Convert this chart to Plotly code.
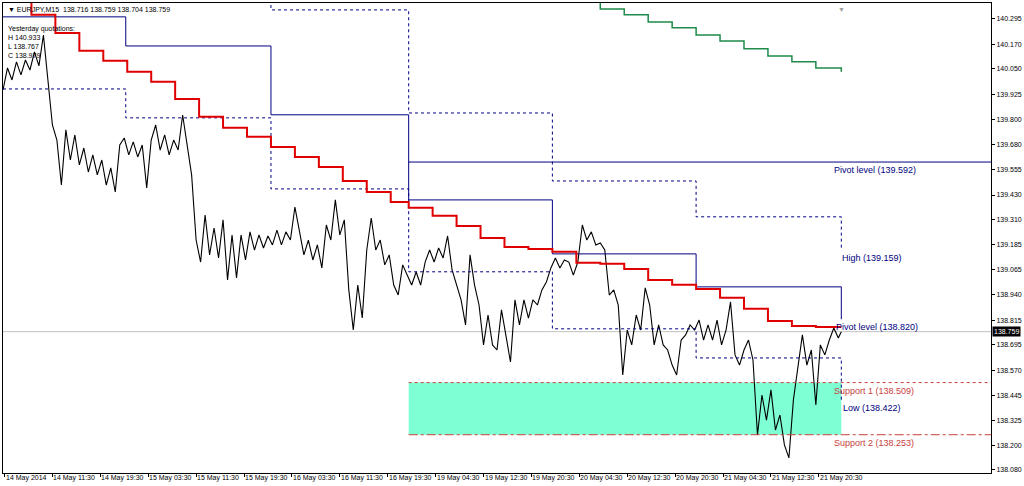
import plotly.graph_objects as go

# ---------------- data ----------------
# bar index = one 15-minute bar (EURJPY M15)
price_bar = list(range(0, 559, 3)) + [560]
price_close = [
    139.946, 140.054, 139.995, 140.084, 140.020, 140.093, 140.044, 140.133, 140.064, 140.216,
    139.995, 139.774, 139.700, 139.479, 139.750, 139.602, 139.725, 139.578, 139.661, 139.543,
    139.627, 139.529, 139.602, 139.479, 139.563, 139.445, 139.676, 139.710, 139.627, 139.691,
    139.617, 139.676, 139.465, 139.700, 139.774, 139.651, 139.725, 139.627, 139.700, 139.651,
    139.823, 139.676, 139.529, 139.209, 139.101, 139.332, 139.136, 139.268, 139.121, 139.308,
    139.013, 139.234, 139.023, 139.234, 139.111, 139.249, 139.160, 139.234, 139.170, 139.229,
    139.185, 139.258, 139.185, 139.249, 139.209, 139.371, 139.258, 139.136, 139.209, 139.111,
    139.185, 139.072, 139.283, 139.209, 139.406, 139.234, 139.308, 138.964, 138.767, 138.988,
    138.826, 139.160, 139.317, 139.160, 139.209, 139.087, 139.136, 138.988, 138.939, 139.087,
    139.037, 138.988, 139.052, 138.988, 139.101, 139.160, 139.101, 139.170, 139.121, 139.229,
    139.062, 138.988, 138.915, 138.792, 139.136, 138.988, 138.890, 138.694, 138.841, 138.694,
    138.669, 138.866, 138.743, 138.610, 138.915, 138.792, 138.915, 138.826, 138.915, 138.890,
    138.964, 139.003, 139.072, 139.121, 139.072, 139.111, 139.101, 139.037, 139.101, 139.283,
    139.209, 139.249, 139.185, 139.195, 139.160, 138.939, 138.964, 138.890, 138.546, 138.767,
    138.694, 138.841, 138.767, 138.974, 138.890, 138.694, 138.792, 138.694, 138.669, 138.595,
    138.546, 138.718, 138.743, 138.792, 138.767, 138.816, 138.718, 138.792, 138.718, 138.816,
    138.694, 138.767, 138.905, 138.645, 138.595, 138.669, 138.718, 138.620, 138.252, 138.448,
    138.325, 138.473, 138.276, 138.350, 138.203, 138.139, 138.424, 138.595, 138.743, 138.595,
    138.669, 138.399, 138.694, 138.645, 138.718, 138.777, 138.728, 138.759,
]

# red stepped average
red_bar = [0, 19, 35, 51, 67, 83, 99, 115, 131, 147, 163, 179, 195, 211, 227, 243, 259,
           271, 287, 303, 319, 335, 351, 367, 383, 399, 415, 431, 447, 463, 479, 495, 511,
           527, 543, 560]
red_val = [140.400, 140.315, 140.226, 140.138, 140.089, 140.035, 139.986, 139.902, 139.814,
           139.760, 139.716, 139.666, 139.617, 139.568, 139.499, 139.445, 139.396,
           139.367, 139.328, 139.278, 139.219, 139.175, 139.165, 139.151, 139.097, 139.092,
           139.067, 139.013, 138.989, 138.969, 138.925, 138.871, 138.812, 138.787, 138.782,
           138.782]

# green stepped line (top right)
green_bar = [383, 399, 415, 431, 447, 463, 479, 495, 511, 527, 543, 560]
green_val = [140.400, 140.344, 140.315, 140.280, 140.251, 140.216, 140.187, 140.148,
             140.113, 140.084, 140.054, 140.035]

# daily levels (previous day), day starts in bars
day_bar = [0, 82, 179, 271, 367, 463, 560]
pivot_val = [140.305, 140.162, 139.824, 139.406, 139.141, 138.979, 138.820]
high_val = [140.933, 140.600, 140.339, 139.833, 139.499, 139.323, 139.159]
low_val = [139.951, 139.809, 139.460, 139.053, 138.773, 138.630, 138.422]

weekly_pivot = 139.592
support1 = 138.509
support2 = 138.253
current_price = 138.759

x_tick_bar = [1 + 32 * k for k in range(18)]
x_tick_text = ["14 May 2014", "14 May 11:30", "14 May 19:30", "15 May 03:30", "15 May 11:30",
               "15 May 19:30", "16 May 03:30", "16 May 11:30", "16 May 19:30", "19 May 04:30",
               "19 May 12:30", "19 May 20:30", "20 May 04:30", "20 May 12:30", "20 May 20:30",
               "21 May 04:30", "21 May 12:30", "21 May 20:30"]
y_tick_text = ["140.295", "140.170", "140.050", "139.925", "139.800", "139.680", "139.555",
               "139.430", "139.310", "139.185", "139.065", "138.940", "138.815", "138.695",
               "138.570", "138.445", "138.325", "138.200", "138.080"]

FONT = "Liberation Sans"
NAVY = "#000080"
SUPRED = "#c8403c"

fig = go.Figure()

# zone rectangle
fig.add_shape(type="rect", x0=day_bar[3], x1=day_bar[6], y0=support2, y1=support1,
              fillcolor="#7fffd4", line=dict(width=0), layer="below")

# current price line
fig.add_trace(go.Scatter(x=[0, 660], y=[current_price, current_price], mode="lines",
                         line=dict(color="#c0c0c0", width=1), hoverinfo="skip"))

# price
fig.add_trace(go.Scatter(x=price_bar, y=price_close, mode="lines",
                         line=dict(color="black", width=1.1)))

# support lines
fig.add_trace(go.Scatter(x=[day_bar[3], 660], y=[support1, support1], mode="lines",
                         line=dict(color=SUPRED, width=1, dash="dot")))
fig.add_trace(go.Scatter(x=[day_bar[3], 660], y=[support2, support2], mode="lines",
                         line=dict(color=SUPRED, width=1, dash="dashdot")))

# daily levels
fig.add_trace(go.Scatter(x=day_bar, y=high_val, mode="lines", line_shape="hv",
                         line=dict(color=NAVY, width=1, dash="dot")))
fig.add_trace(go.Scatter(x=day_bar, y=low_val, mode="lines", line_shape="hv",
                         line=dict(color=NAVY, width=1, dash="dot")))
fig.add_trace(go.Scatter(x=[day_bar[3], 660], y=[weekly_pivot, weekly_pivot], mode="lines",
                         line=dict(color=NAVY, width=1)))
fig.add_trace(go.Scatter(x=day_bar, y=pivot_val, mode="lines", line_shape="hv",
                         line=dict(color=NAVY, width=1)))

# green & red step lines
fig.add_trace(go.Scatter(x=green_bar, y=green_val, mode="lines", line_shape="hv",
                         line=dict(color="#1e8b4a", width=1.5)))
fig.add_trace(go.Scatter(x=red_bar, y=red_val, mode="lines", line_shape="hv",
                         line=dict(color="#e00000", width=2)))

ann = []
for b, t in zip(x_tick_bar, x_tick_text):
    ann.append(dict(x=b, y=0, xref="x", yref="paper", text=t, showarrow=False,
                    xanchor="left", yanchor="top", yshift=1, xshift=-1,
                    font=dict(family=FONT, size=7, color="black")))

labels = [
    (554, weekly_pivot, "Pivot level (%.3f)" % weekly_pivot, NAVY),
    (559, high_val[-1], "High (%.3f)" % high_val[-1], NAVY),
    (555, pivot_val[-1], "Pivot level (%.3f)" % pivot_val[-1], NAVY),
    (554, support1, "Support 1 (%.3f)" % support1, SUPRED),
    (560, low_val[-1], "Low (%.3f)" % low_val[-1], NAVY),
    (554, support2, "Support 2 (%.3f)" % support2, SUPRED),
]
for x, y, t, c in labels:
    ann.append(dict(x=x, y=y, xref="x", yref="y", text=t, showarrow=False,
                    xanchor="left", yanchor="top", yshift=-1,
                    font=dict(family=FONT, size=9, color=c)))

ann.append(dict(x=1, y=current_price, xref="paper", yref="y", text="138.759",
                showarrow=False, xanchor="left", yanchor="middle", xshift=1,
                bgcolor="black", borderpad=1, font=dict(family=FONT, size=7, color="white")))
ann.append(dict(x=0, y=1, xref="paper", yref="paper",
                text="\u25bc EURJPY,M15  138.716 138.759 138.704 138.759",
                showarrow=False, xanchor="left", yanchor="top", xshift=3, yshift=-1,
                font=dict(family=FONT, size=7, color="black")))
ann.append(dict(x=0, y=1, xref="paper", yref="paper",
                text="Yesterday quotations:<br>H 140.933<br>L 138.767<br>C 138.979",
                showarrow=False, xanchor="left", yanchor="top", xshift=3, yshift=-20,
                align="left", font=dict(family=FONT, size=7, color="black")))
ann.append(dict(x=560, y=1, xref="x", yref="paper", text="\u25bc", showarrow=False,
                xanchor="center", yanchor="top", yshift=-1,
                font=dict(family=FONT, size=7, color="#a0a0a0")))

fig.update_layout(
    width=1024, height=486,
    margin=dict(l=2, r=32, t=3, b=13),
    paper_bgcolor="white", plot_bgcolor="white",
    showlegend=False,
    annotations=ann,
    xaxis=dict(range=[0, 660], showgrid=False, zeroline=False,
               tickvals=x_tick_bar, showticklabels=False, ticks="outside", ticklen=3,
               tickcolor="black", showline=True, linecolor="black", linewidth=1, mirror=True),
    yaxis=dict(range=[138.065, 140.373], side="right", showgrid=False, zeroline=False,
               tickvals=[float(v) for v in y_tick_text], ticktext=y_tick_text,
               ticks="outside", ticklen=3, tickcolor="black",
               tickfont=dict(family=FONT, size=7, color="black"),
               showline=True, linecolor="black", linewidth=1, mirror=True),
)

fig.write_html("out.html", config={"displayModeBar": False},
               post_script="document.body.style.margin='0';")
